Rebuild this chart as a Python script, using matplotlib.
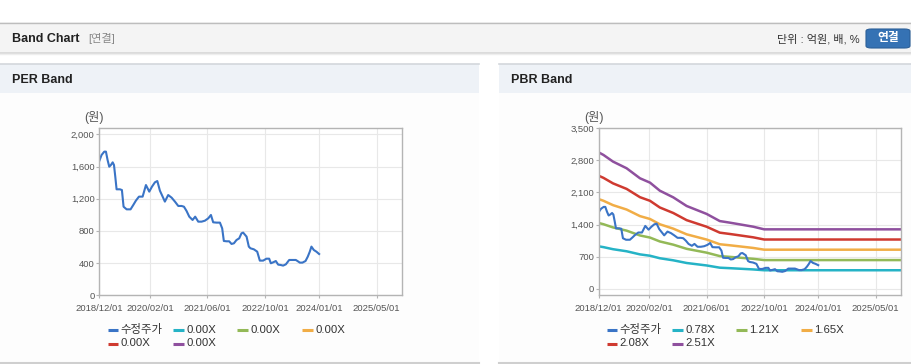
import numpy as np
import matplotlib.pyplot as plt
from matplotlib.patches import Rectangle, FancyBboxPatch
from matplotlib.lines import Line2D

plt.rcParams['font.family'] = ['Liberation Sans', 'Noto Sans CJK KR']

W, H = 912, 364

# ---------------------------------------------------------------
# data
# ---------------------------------------------------------------
price_dates = np.array([
    '2018-12-01', '2018-12-20', '2019-01-12', '2019-01-26', '2019-02-09', '2019-02-23',
    '2019-03-09', '2019-03-24', '2019-04-04', '2019-04-15', '2019-04-26', '2019-05-24',
    '2019-06-10', '2019-06-24', '2019-07-20', '2019-08-22', '2019-09-14', '2019-10-06',
    '2019-11-01', '2019-12-02', '2019-12-30', '2020-01-27', '2020-02-19', '2020-03-15',
    '2020-04-04', '2020-04-26', '2020-05-19', '2020-06-07', '2020-06-21', '2020-07-05',
    '2020-08-03', '2020-08-31', '2020-09-28', '2020-10-26', '2020-11-15', '2020-12-07',
    '2020-12-30', '2021-01-27', '2021-02-18', '2021-03-16', '2021-04-13', '2021-05-11',
    '2021-06-08', '2021-07-01', '2021-07-20', '2021-08-17', '2021-09-15', '2021-10-04',
    '2021-10-18', '2021-11-10', '2021-12-02', '2021-12-22', '2022-01-11', '2022-02-02',
    '2022-02-25', '2022-03-16', '2022-03-30', '2022-04-28', '2022-05-17', '2022-05-31',
    '2022-06-29', '2022-07-27', '2022-08-18', '2022-09-15', '2022-10-13', '2022-11-05',
    '2022-11-19', '2022-12-09', '2022-12-31', '2023-01-20', '2023-02-09', '2023-03-03',
    '2023-03-26', '2023-04-23', '2023-05-21', '2023-06-18', '2023-07-02', '2023-07-22',
    '2023-08-13', '2023-09-08', '2023-09-27', '2023-10-14', '2023-10-28', '2023-11-17',
    '2023-12-09', '2024-01-01'], dtype='datetime64[D]')
price = np.array([
    1669, 1743, 1785, 1785, 1681, 1598, 1619, 1652, 1619, 1474, 1317, 1317,
    1308, 1101, 1068, 1068, 1122, 1176, 1226, 1226, 1370, 1288, 1350, 1404,
    1420, 1300, 1226, 1164, 1205, 1246, 1213, 1164, 1110, 1110, 1101, 1048,
    977, 936, 977, 915, 915, 927, 956, 998, 907, 903, 903, 832,
    675, 671, 671, 638, 646, 687, 708, 770, 779, 729, 605, 584,
    571, 542, 431, 431, 455, 455, 398, 410, 426, 381, 377, 369,
    385, 439, 439, 439, 426, 406, 406, 426, 480, 542, 605, 563,
    542, 513])

# book value per share behind the PBR bands
bps_dates = np.array([
    '2018-12-01', '2019-01-10', '2019-04-01', '2019-07-25', '2019-11-15', '2020-02-08',
    '2020-05-01', '2020-08-23', '2020-12-14', '2021-06-01', '2021-09-20', '2021-12-15',
    '2022-03-10', '2022-06-30', '2022-10-01', '2025-12-01'], dtype='datetime64[D]')
bps = np.array([1185, 1163, 1105, 1047, 960, 922, 852, 794, 719, 650, 588, 574,
                559, 539, 516, 516])

pbr_mult = [0.78, 1.21, 1.65, 2.08, 2.51]
pbr_labels = ['0.78X', '1.21X', '1.65X', '2.08X', '2.51X']
per_labels = ['0.00X', '0.00X', '0.00X', '0.00X', '0.00X']
band_colors = ['#25b3c6', '#93b957', '#f1ad46', '#cf3a30', '#8f509e']
price_color = '#3a74c6'

tick_dates = np.array(['2018-12-01', '2020-02-01', '2021-06-01', '2022-10-01',
                       '2024-01-01', '2025-05-01'], dtype='datetime64[D]')
tick_labels = ['2018/12/01', '2020/02/01', '2021/06/01', '2022/10/01',
               '2024/01/01', '2025/05/01']
x_range = np.array(['2018-12-01', '2025-12-01'], dtype='datetime64[D]')


def fx(x):
    return x / W


def fy(y):
    return 1 - y / H


fig = plt.figure(figsize=(W / 100, H / 100), dpi=100)
fig.patch.set_facecolor('white')


def rect(x0, y0, x1, y1, color, z=0):
    fig.add_artist(Rectangle((fx(x0), fy(y1)), fx(x1) - fx(x0), fy(y0) - fy(y1),
                             transform=fig.transFigure, facecolor=color,
                             edgecolor='none', zorder=z))


def hline(x0, x1, y, color, lw=1.0):
    fig.add_artist(Line2D([fx(x0), fx(x1)], [fy(y), fy(y)], transform=fig.transFigure,
                          color=color, lw=lw, zorder=1))


# header bar
rect(0, 22, W, 53, '#f4f4f4')
hline(0, W, 22.5, '#bdbdbd')
hline(0, W, 52.5, '#d6d6d6', lw=1.2)
hline(0, W, 54, '#eeeeee', lw=1.0)
fig.text(fx(12), fy(39), 'Band Chart', fontsize=9, fontweight='bold', color='#222222',
         va='center', ha='left')
fig.text(fx(88), fy(39), '[연결]', fontsize=8, color='#888888', va='center', ha='left')
fig.text(fx(860), fy(39), '단위 : 억원, 배, %', fontsize=8, color='#333333',
         va='center', ha='right')
fig.add_artist(FancyBboxPatch((fx(866), fy(48)), fx(44), fy(29) - fy(48),
                              boxstyle='round,pad=0,rounding_size=0.006',
                              transform=fig.transFigure, facecolor='#3572b4',
                              edgecolor='#2c5f98', lw=0.8, zorder=2))
fig.text(fx(888), fy(38.5), '연결', fontsize=8.5, fontweight='bold', color='white',
         va='center', ha='center', zorder=3)

# panel frames
for p0, p1, title in [(0, 479, 'PER Band'), (499, W, 'PBR Band')]:
    rect(p0, 64, p1, 92.5, '#eef2f7')
    rect(p0, 92.5, p1, 363, '#fdfdfd')
    hline(p0, p1, 64.3, '#d3d7dc', lw=1.2)
    hline(p0, p1, 363, '#cfcfcf', lw=1.5)
    fig.text(fx(p0 + 12), fy(80), title, fontsize=9, fontweight='bold', color='#222222',
             va='center', ha='left')


def setup_axes(left, right, top, bottom, ylim, yticks):
    ax = fig.add_axes([fx(left), fy(bottom), fx(right) - fx(left), fy(top) - fy(bottom)])
    ax.set_facecolor('white')
    ax.set_xlim(x_range[0], x_range[1])
    ax.set_ylim(*ylim)
    ax.set_xticks(tick_dates)
    ax.set_xticklabels(tick_labels)
    ax.set_yticks(yticks)
    ax.set_yticklabels([f'{v:,}' for v in yticks])
    ax.grid(True, color='#e8e8e8', lw=0.8)
    ax.set_axisbelow(True)
    for s in ax.spines.values():
        s.set_color('#b4b4b4')
        s.set_linewidth(1.0)
    ax.tick_params(axis='both', colors='#b4b4b4', labelcolor='#555555', labelsize=6.8,
                   length=2.5, width=0.8)
    ax.tick_params(axis='x', pad=3.5)
    ax.tick_params(axis='y', pad=0.8)
    fig.text(fx(left - 5), fy(118), '(원)', fontsize=8.8, color='#555555',
             va='center', ha='center')
    return ax


def legend(x0, labels):
    entries = [('수정주가', price_color)] + list(zip(labels, band_colors))
    for i, (lab, col) in enumerate(entries):
        row, c = divmod(i, 4)
        lx = x0 + [0, 65.6, 129.6, 194.6][c]
        ly = 330 + row * 13.5
        fig.add_artist(Line2D([fx(lx), fx(lx + 10.6)], [fy(ly), fy(ly)],
                              transform=fig.transFigure, color=col, lw=2.2,
                              solid_capstyle='butt'))
        fig.text(fx(lx + 13), fy(ly), lab, fontsize=8.2, color='#333333',
                 va='center', ha='left')


# PER band
ax1 = setup_axes(99.3, 402, 128.3, 295.3, (0, 2075), [0, 400, 800, 1200, 1600, 2000])
ax1.plot(price_dates, price, color=price_color, lw=1.5)
legend(107.7, per_labels)

# PBR band
ax2 = setup_axes(598.7, 901, 128.3, 295.3, (-144, 3500), [0, 700, 1400, 2100, 2800, 3500])
for m, col in zip(pbr_mult, band_colors):
    ax2.plot(bps_dates, bps * m, color=col, lw=1.8)
ax2.plot(price_dates, price, color=price_color, lw=1.5)
legend(606.7, pbr_labels)

fig.savefig('out.png', dpi=100)
